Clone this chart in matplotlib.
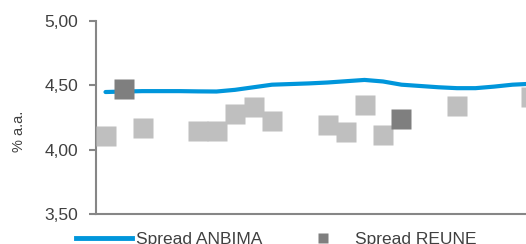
import numpy as np
import matplotlib
matplotlib.use("Agg")
import matplotlib.pyplot as plt
from matplotlib.lines import Line2D

plt.rcParams['font.family'] = ['Liberation Sans', 'DejaVu Sans']

# observation slots (weekly), only relative position matters
periods = list(range(24))

spread_anbima = [4.448, 4.452, 4.455, 4.455, 4.455, 4.453, 4.452, 4.465,
                 4.485, 4.505, 4.510, 4.515, 4.522, 4.532, 4.542, 4.530,
                 4.505, 4.495, 4.485, 4.478, 4.478, 4.490, 4.505, 4.512]

# REUNE spreads, grey = other issues, dark = highlighted issues
reune_other_idx = [0, 2, 5, 6, 7, 8, 9, 12, 13, 14, 15, 19, 23]
reune_other = [4.110, 4.165, 4.143, 4.143, 4.275, 4.328, 4.219,
               4.188, 4.136, 4.346, 4.113, 4.336, 4.406]
reune_idx = [1, 16]
reune = [4.469, 4.242]

yticks = [3.5, 4.0, 4.5, 5.0]

blue = '#0096DB'
light = '#BFBFBF'
dark = '#7F7F7F'
axis_grey = '#868686'
text_grey = '#404040'

W, H = 526, 244
fig = plt.figure(figsize=(W / 100, H / 100), dpi=100)
ax = fig.add_axes([96 / W, (H - 214) / H, (W - 96) / W, 193 / H])

ax.plot(periods, spread_anbima, color=blue, lw=3.0, solid_capstyle='round',
        zorder=2)
ax.plot(reune_other_idx, reune_other, ls='none', marker='s', ms=13.7,
        mec='none', color=light, zorder=3)
ax.plot(reune_idx, reune, ls='none', marker='s', ms=13.7, mec='none',
        color=dark, zorder=4)

ax.set_xlim(-0.514, 22.73)
ax.set_ylim(3.5, 5.0)
ax.set_yticks(yticks)
ax.set_yticklabels(['{:.2f}'.format(v).replace('.', ',') for v in yticks],
                   fontsize=12.5, color=text_grey)
ax.tick_params(axis='y', length=5, width=1.5, color=axis_grey, pad=8)
ax.set_xticks([])

for s in ['top', 'right']:
    ax.spines[s].set_visible(False)
for s in ['left', 'bottom']:
    ax.spines[s].set_color(axis_grey)
    ax.spines[s].set_linewidth(1.5)

fig.text(19 / W, 1 - 131.5 / H, '% a.a.', rotation=90, ha='center',
         va='center', fontsize=10.5, color=text_grey)

handles = [Line2D([], [], color=blue, lw=3.5),
           Line2D([], [], ls='none', marker='s', ms=7, mec='none', color=dark)]
fig.legend(handles, ['Spread ANBIMA', 'Spread REUNE'], loc='center left',
           bbox_to_anchor=(76 / W, 1 - 239 / H), ncol=2, frameon=False,
           fontsize=12.5, handlelength=3.2, handletextpad=0.25,
           columnspacing=1.9, borderpad=0, borderaxespad=0,
           labelcolor=text_grey)

fig.savefig('out.png', dpi=100)
